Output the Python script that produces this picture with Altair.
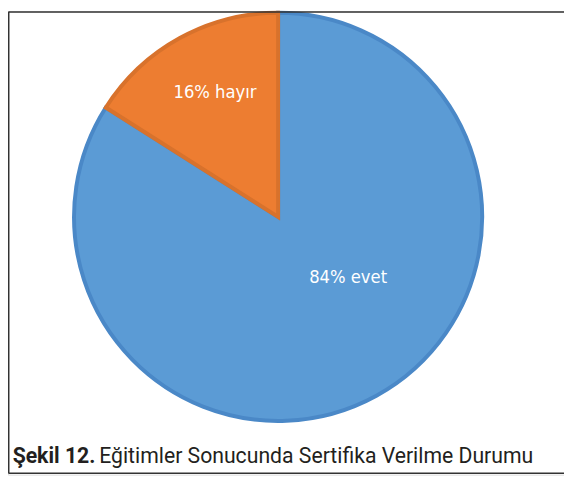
import altair as alt
import pandas as pd

categories = ["evet", "hayır"]
values = [84, 16]
labels = ["84% evet", "16% hayır"]
caption_bold = "Şekil 12."
caption_rest = "Eğitimler Sonucunda Sertifika Verilme Durumu"

fill_colors = ["#5B9BD5", "#ED7D31"]
stroke_colors = ["#4A88C7", "#D8722C"]

df = pd.DataFrame({"cat": categories, "val": values, "label": labels, "ord": [0, 1]})

W, H = 564, 470
CX, CY = 274, 208.5

pie = alt.Chart(df).mark_arc(outerRadius=207, strokeWidth=4).encode(
    theta=alt.Theta("val:Q", stack=True),
    order=alt.Order("ord:Q"),
    color=alt.Color("cat:N", scale=alt.Scale(domain=categories, range=fill_colors), legend=None),
    stroke=alt.Stroke("cat:N", scale=alt.Scale(domain=categories, range=stroke_colors), legend=None),
    x=alt.value(CX),
    y=alt.value(CY),
)

lab_font = "DejaVu Sans Condensed, Roboto, sans-serif"
lab_evet = alt.Chart(df[df.cat == "evet"]).mark_text(
    font=lab_font, fontSize=18.5, color="white", align="center", baseline="alphabetic"
).encode(text="label:N", x=alt.value(345), y=alt.value(276))
lab_hayir = alt.Chart(df[df.cat == "hayır"]).mark_text(
    font=lab_font, fontSize=18.5, color="white", align="center", baseline="alphabetic"
).encode(text="label:N", x=alt.value(210), y=alt.value(88))

cap_font = "Roboto, Liberation Sans, sans-serif"
cap_df = pd.DataFrame({"b": [caption_bold], "r": [caption_rest]})
cap_b = alt.Chart(cap_df).mark_text(
    font=cap_font, fontSize=21.5, fontWeight="bold", color="#231F20", align="left", baseline="alphabetic"
).encode(text="b:N", x=alt.value(4.7), y=alt.value(458))
cap_r = alt.Chart(cap_df).mark_text(
    font=cap_font, fontSize=21.5, color="#231F20", align="left", baseline="alphabetic"
).encode(text="r:N", x=alt.value(92.5), y=alt.value(458))

frame_color = "#333333"
top = alt.Chart(cap_df).mark_rule(color=frame_color, strokeWidth=1.5).encode(
    x=alt.value(0.5), x2=alt.value(W), y=alt.value(0.75))
left = alt.Chart(cap_df).mark_rule(color=frame_color, strokeWidth=1.5).encode(
    x=alt.value(0.75), y=alt.value(0.5), y2=alt.value(468.5))
bottom = alt.Chart(cap_df).mark_rule(color=frame_color, strokeWidth=1.5).encode(
    x=alt.value(0.5), x2=alt.value(W), y=alt.value(468.5))

chart = alt.layer(pie, lab_evet, lab_hayir, cap_b, cap_r, top, left, bottom).properties(
    width=W, height=H, padding=0, autosize=alt.AutoSizeParams(type="none")
).configure_view(stroke=None).configure(background="white")

chart.save("out.html", embed_options={"renderer": "svg", "actions": False})
